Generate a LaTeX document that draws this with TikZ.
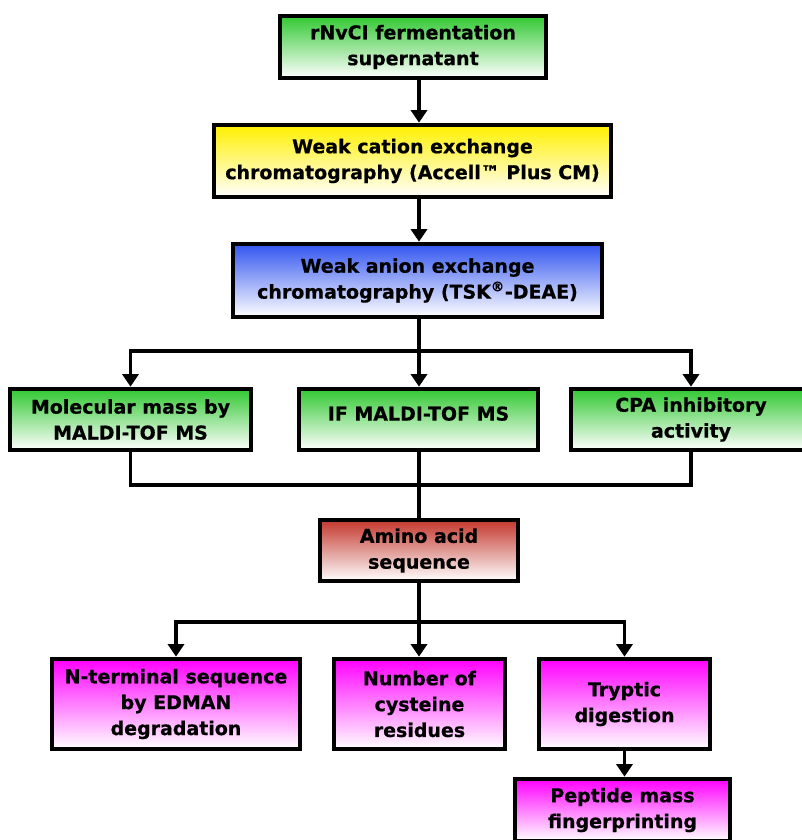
\documentclass[tikz,border=0pt]{standalone}
\usepackage{fontspec}
\setmainfont{DejaVu Sans}[BoldFeatures={FakeBold=0.6}]
\usetikzlibrary{arrows.meta}

\definecolor{fermgreen}{RGB}{50,200,50}
\definecolor{cationyellow}{RGB}{255,240,0}
\definecolor{anionblue}{RGB}{50,85,240}
\definecolor{aminored}{RGB}{195,55,45}
\definecolor{pepmagenta}{RGB}{255,0,255}

\begin{document}
\begin{tikzpicture}[x=0.025cm,y=-0.025cm,
    font=\bfseries\fontsize{13.5}{18.4}\selectfont,
    stage/.style={draw,line width=3.3pt,align=center,inner sep=0pt,bottom color=white},
    flow/.style={line width=2.8pt},
    arr/.style={flow,-{Triangle[length=9pt,width=11.5pt]}}]
    \useasboundingbox (0,0) rectangle (801,840);

    % purification
    \node[stage,top color=fermgreen,minimum width=6.65cm,minimum height=1.55cm] (ferm) at (413,47){rNvCI fermentation\\supernatant};
    \node[stage,top color=cationyellow,minimum width=9.925cm,minimum height=1.8cm] (cation) at (412.5,161){Weak cation exchange\\chromatography (Accell™ Plus CM)};
    \node[stage,top color=anionblue,minimum width=9.225cm,minimum height=1.825cm] (anion) at (417.5,280.5){Weak anion exchange\\chromatography (TSK\textsuperscript{®}-DEAE)};

    % characterisation
    \node[stage,top color=fermgreen,minimum width=6.025cm,minimum height=1.525cm] (molec) at (130.5,419.5){Molecular mass by\\MALDI-TOF MS};
    \node[stage,top color=fermgreen,minimum width=5.975cm,minimum height=1.525cm] (ifms) at (418.5,419.5){\raisebox{8.5pt}{IF MALDI-TOF MS}};
    \node[stage,top color=fermgreen,minimum width=6cm,minimum height=1.525cm] (cpa) at (691,419.5){CPA inhibitory\\activity};

    \node[stage,top color=aminored,minimum width=4.95cm,minimum height=1.525cm] (amino) at (419,550.5){Amino acid\\sequence};

    % sequencing
    \node[stage,top color=pepmagenta,minimum width=6.2cm,minimum height=2.25cm] (nterm) at (176,704){N-terminal sequence\\by EDMAN\\degradation};
    \node[stage,top color=pepmagenta,minimum width=4.275cm,minimum height=2.25cm] (cyst) at (419.5,704){Number of\\cysteine\\residues};
    \node[stage,top color=pepmagenta,minimum width=4.275cm,minimum height=2.25cm] (tryp) at (624.5,704){Tryptic\\digestion};
    \node[stage,top color=pepmagenta,minimum width=5.375cm,minimum height=1.55cm] (pept) at (622.5,810){Peptide mass\\fingerprinting};

    \coordinate (split) at (419,351);
    \coordinate (join) at (419,485);
    \coordinate (fork) at (419,622);

    \draw[arr] (ferm.south -| split) -- (cation.north -| split);
    \draw[arr] (cation.south -| split) -- (anion.north -| split);
    \draw[flow] (anion.south -| split) -- (split);
    \draw[arr] (split) -| (molec);
    \draw[arr] (split) -- (ifms.north -| split);
    \draw[arr] (split) -| (cpa);
    \draw[flow] (molec) |- (join);
    \draw[flow] (cpa) |- (join);
    \draw[flow] (ifms.south -| split) -- (amino.north -| split);
    \draw[flow] (amino.south -| split) -- (fork);
    \draw[arr] (fork) -| (nterm);
    \draw[arr] (fork) -- (cyst.north -| fork);
    \draw[arr] (fork) -| (tryp);
    \draw[arr] (tryp) -- (pept.north -| tryp);
\end{tikzpicture}
\end{document}
